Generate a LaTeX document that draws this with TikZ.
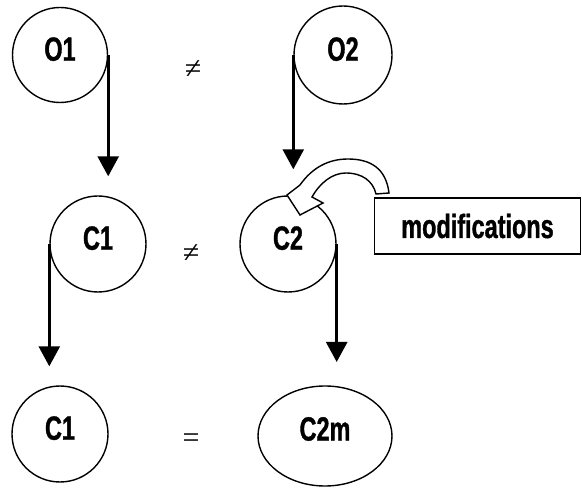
\documentclass[tikz,border=0pt]{standalone}
\usepackage{fontspec}
\newfontfamily\lbl{Liberation Sans}[FakeStretch=0.7,FakeBold=1]
\newfontfamily\symf{Liberation Serif}
\usetikzlibrary{arrows.meta}
\begin{document}
\begin{tikzpicture}[x=1pt,y=-1pt,
  lblfont/.style={font=\lbl\bfseries\fontsize{33.5}{34}\selectfont},
  circ/.style={draw, line width=1.4pt, circle, inner sep=0pt, lblfont, text depth=12pt},
  conn/.style={line width=2.6pt, -{Triangle[width=21pt,length=20pt]}},
  rel/.style={inner sep=0pt, font=\symf\fontsize{30}{30}\selectfont},
  boxnode/.style={draw, line width=1.4pt, minimum width=206pt, minimum height=56pt, inner sep=0pt, lblfont}
]
\useasboundingbox (0,0) rectangle (582,489);
\node[circ, minimum size=95pt] (O1) at (60,55) {O1};
\node[circ, minimum size=98pt] (O2) at (343,55) {O2};
\node[circ, minimum size=96pt] (C1) at (98,244) {C1};
\node[circ, minimum size=96pt] (C2) at (288,244) {C2};
\node[circ, minimum size=96pt] (C1b) at (60,434) {C1};
\draw[line width=1.4pt] (325,436) ellipse [x radius=67, y radius=50];
\node[lblfont, inner sep=0pt] (C2m) at (325,429) {C2m};
\coordinate (C2mtop) at (325,386);
\node[boxnode] (mod) at (477.5,226) {modifications};
\node[rel] (ne1) at (193,70) {≠};
\node[rel] (ne2) at (191,254) {≠};
\node[rel] (eq) at (191,441) {=};
\draw[conn, shorten >=19pt] (O1.east) -- (O1.east |- C1.north);
\draw[conn, shorten >=26pt] (O2.west) -- (O2.west |- C2.north);
\draw[conn, shorten >=19pt] (C1.west) -- (C1.west |- C1b.north);
\draw[conn, shorten >=24pt] (C2.east) -- (C2.east |- C2mtop);
\draw[line width=1.4pt, fill=white, line join=miter]
  (389,193) .. controls (386,168) and (370,159) .. (348,159)
  .. controls (328,159) and (312,168) .. (300,185)
  -- (287,195) -- (300,215) -- (323,203) -- (312,197)
  .. controls (320,183) and (332,173) .. (346,173)
  .. controls (362,173) and (373,181) .. (376,194) -- cycle;
\end{tikzpicture}
\end{document}
